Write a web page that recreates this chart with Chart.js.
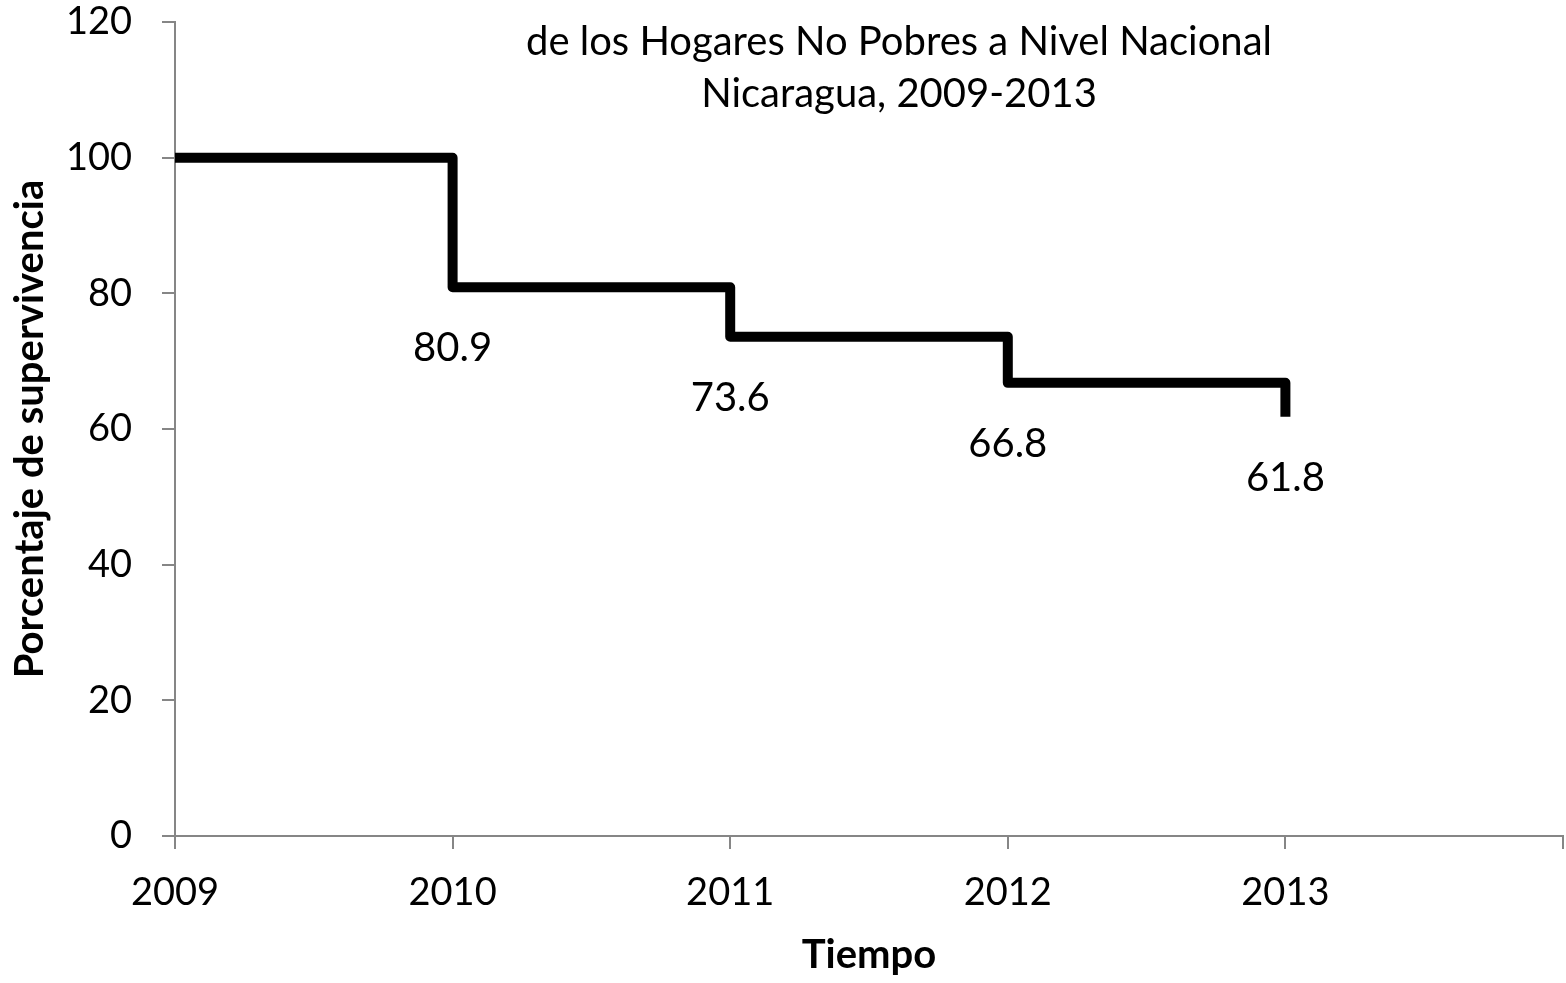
<!DOCTYPE html>
<html>
<head>
<meta charset="utf-8">
<script src="https://cdn.jsdelivr.net/npm/chart.js@4/dist/chart.umd.min.js"></script>
<style>
  html, body { margin: 0; padding: 0; background: #fff; }
  canvas { display: block; }
</style>
</head>
<body>
<canvas id="survChart" width="1566" height="983"></canvas>
<script>
// datos de la curva de supervivencia
const years = [2009, 2010, 2011, 2012, 2013];
const survival = [100, 80.9, 73.6, 66.8, 61.8];
const pointLabels = ['', '80.9', '73.6', '66.8', '61.8'];
const yTicks = [0, 20, 40, 60, 80, 100, 120];
const titleLines = ['de los Hogares No Pobres a Nivel Nacional', 'Nicaragua, 2009-2013'];

const axisGrey = '#868686';
const fontFamily = 'Lato, "Open Sans", sans-serif';

// etiquetas de valores debajo de cada escalón
const valueLabels = {
    id: 'valueLabels',
    afterDatasetsDraw(chart) {
        const ctx = chart.ctx;
        const xs = chart.scales.x;
        const ys = chart.scales.y;
        ctx.save();
        ctx.font = '40px ' + fontFamily;
        ctx.fillStyle = '#000';
        ctx.textAlign = 'center';
        ctx.textBaseline = 'middle';
        years.forEach((yr, i) => {
            if (!pointLabels[i]) return;
            ctx.fillText(pointLabels[i], xs.getPixelForValue(yr), ys.getPixelForValue(survival[i]) + 61);
        });
        ctx.restore();
    }
};

// título dibujado encima del área del gráfico
const overlayTitle = {
    id: 'overlayTitle',
    afterDraw(chart) {
        const ctx = chart.ctx;
        ctx.save();
        ctx.font = '40px ' + fontFamily;
        ctx.fillStyle = '#000';
        ctx.textAlign = 'center';
        ctx.textBaseline = 'middle';
        titleLines.forEach((line, i) => {
            ctx.fillText(line, 899, 42 + i * 52);
        });
        ctx.restore();
    }
};

const survChartConfig = {
    type: 'line',
    data: {
        datasets: [{
            label: 'Supervivencia',
            data: years.map((yr, i) => ({ x: yr, y: survival[i] })),
            stepped: 'before',
            borderColor: '#000',
            borderWidth: 10,
            borderJoinStyle: 'round',
            borderCapStyle: 'butt',
            pointRadius: 0,
            fill: false
        }]
    },
    options: {
        responsive: false,
        animation: false,
        layout: {
            padding: { top: 22, right: 3, left: 0, bottom: 0 }
        },
        plugins: {
            legend: { display: false },
            tooltip: { enabled: false }
        },
        scales: {
            x: {
                type: 'linear',
                min: 2009,
                max: 2014,
                afterFit(scale) {
                    scale.height = 147;
                    scale.paddingLeft = 0;
                    scale.paddingRight = 0;
                },
                border: { color: axisGrey, width: 2 },
                grid: { drawOnChartArea: false, drawTicks: true, tickLength: 13, color: axisGrey, lineWidth: 2 },
                ticks: {
                    stepSize: 1,
                    padding: 21,
                    color: '#000',
                    font: { family: fontFamily, size: 38 },
                    callback: (v) => (years.includes(v) ? String(v) : '')
                },
                title: {
                    display: true,
                    text: 'Tiempo',
                    color: '#000',
                    font: { family: fontFamily, size: 40, weight: 'bold' },
                    padding: { top: 0, bottom: 4 }
                }
            },
            y: {
                min: 0,
                max: 120,
                afterFit(scale) {
                    scale.width = 175;
                    scale.paddingTop = 0;
                    scale.paddingBottom = 0;
                },
                afterBuildTicks(scale) { scale.ticks = yTicks.map(v => ({ value: v })); },
                border: { color: axisGrey, width: 2 },
                grid: { drawOnChartArea: false, drawTicks: true, tickLength: 13, color: axisGrey, lineWidth: 2 },
                ticks: {
                    padding: 30,
                    color: '#000',
                    font: { family: fontFamily, size: 38 }
                },
                title: {
                    display: true,
                    text: 'Porcentaje de supervivencia',
                    color: '#000',
                    font: { family: fontFamily, size: 40, weight: 'bold' },
                    padding: { top: 6, bottom: 0 }
                }
            }
        }
    },
    plugins: [valueLabels, overlayTitle]
};

const survChart = new Chart(
    document.getElementById('survChart'),
    survChartConfig
);
</script>
</body>
</html>
